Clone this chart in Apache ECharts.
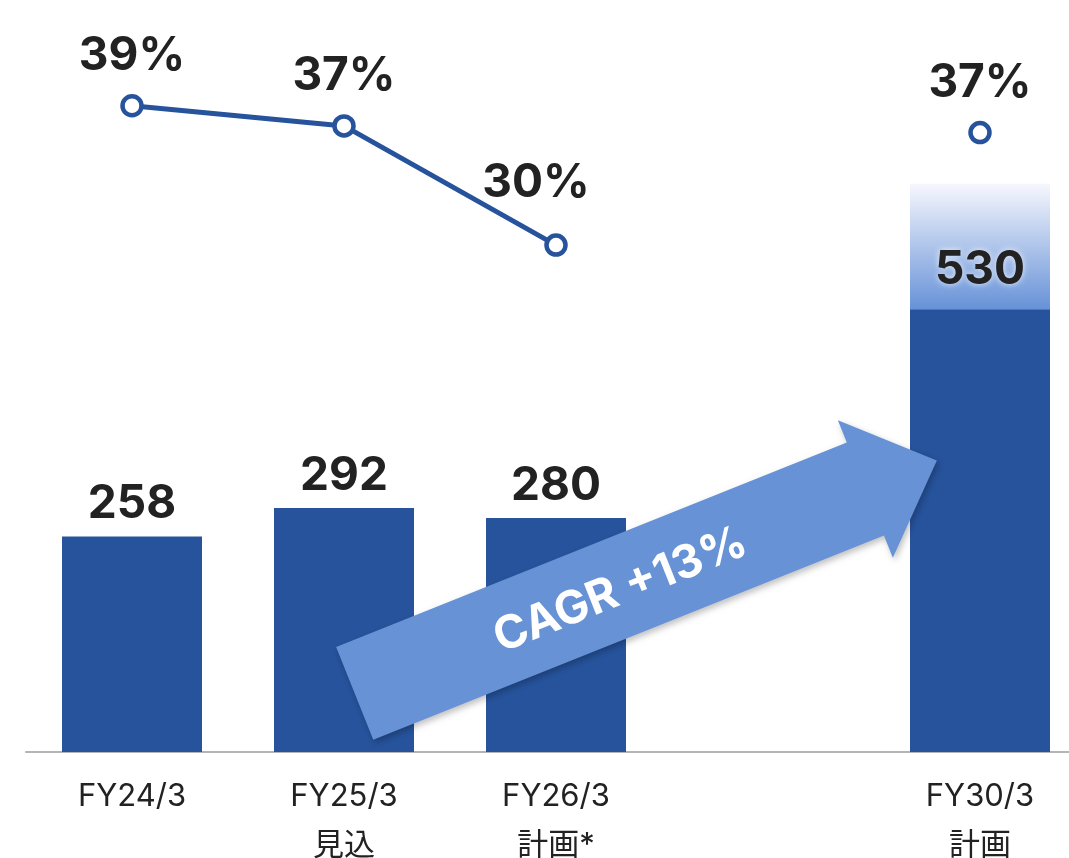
<!DOCTYPE html>
<html>
<head>
<meta charset="utf-8">
<script src="https://cdn.jsdelivr.net/npm/echarts@6/dist/echarts.min.js"></script>
<style>
  html, body { margin: 0; padding: 0; background: #fff; }
  #chart { width: 1069px; height: 858px; }
</style>
</head>
<body>
<div id="chart"></div>
<script>
// categories (4th slot is an empty gap before FY30)
const categories = ["FY24/3", "FY25/3\n見込", "FY26/3\n計画*", "", "FY30/3\n計画"];
const sales = [258, 292, 280, null, 530];
// lighter gradient block on top of FY30 bar
const upside = [null, null, null, null, 150];
// ratio line (labels show rounded values)
const ratio = [38.5, 37.3, 30.2, null, 36.9];
const cagrText = "CAGR +13%";

const DARK = "#26539c";
const BOLDFONT = "Inter, 'Liberation Sans', Arial, sans-serif";
const AXISFONT = "Inter, 'Noto Sans CJK JP', sans-serif";

const chart = echarts.init(document.getElementById("chart"));

chart.setOption({
  animation: false,
  grid: { left: 26, right: -17, top: 0, bottom: 106, containLabel: false, outerBoundsMode: "none" },
  xAxis: {
    type: "category",
    data: categories,
    axisTick: { show: false },
    axisLine: { lineStyle: { color: "#b4b4b4", width: 2 } },
    axisLabel: {
      interval: 0,
      margin: 20,
      color: "#222",
      fontSize: 31,
      lineHeight: 49,
      fontFamily: AXISFONT
    }
  },
  yAxis: [
    { type: "value", min: 0, max: 900, show: false, splitLine: { show: false } },
    { type: "value", min: 0, max: 44.8, show: false, splitLine: { show: false } }
  ],
  graphic: [
    {
      type: "group",
      x: 354.7,
      y: 693.3,
      rotation: 21.8 * Math.PI / 180,
      z: 100,
      children: [
        {
          type: "polygon",
          z: 100,
          shape: {
            points: [[0, -50], [550, -50], [550, -74], [627, 0], [550, 74], [550, 50], [0, 50]]
          },
          style: {
            fill: "#6792d6",
            shadowBlur: 6,
            shadowOffsetX: 2,
            shadowOffsetY: 3,
            shadowColor: "rgba(0,0,0,0.25)"
          }
        },
        {
          type: "text",
          z: 101,
          style: {
            text: cagrText,
            x: 285,
            y: 3,
            align: "center",
            verticalAlign: "middle",
            fill: "#fff",
            fontSize: 46,
            fontWeight: "bold",
            fontFamily: BOLDFONT
          }
        }
      ]
    }
  ],
  series: [
    {
      type: "bar",
      stack: "s",
      barWidth: 140,
      data: sales.map((v, i) => (i === 4 ? { value: v, label: { distance: 16 } } : v)),
      itemStyle: { color: DARK },
      label: {
        show: true,
        position: "top",
        distance: 9,
        color: "#222",
        fontSize: 46,
        fontWeight: "bold",
        fontFamily: BOLDFONT,
        textShadowColor: "rgba(255,255,255,0.8)",
        textShadowBlur: 6
      }
    },
    {
      type: "bar",
      stack: "s",
      barWidth: 140,
      z: 1,
      data: upside,
      itemStyle: {
        color: new echarts.graphic.LinearGradient(0, 0, 0, 1, [
          { offset: 0, color: "#f6f7fd" },
          { offset: 1, color: "#6792d8" }
        ])
      }
    },
    {
      type: "line",
      yAxisIndex: 1,
      // the FY26 label sits a bit left of and above its point
      data: ratio.map((v, i) => (i === 2 ? { value: v, label: { offset: [-20, -12] } } : v)),
      symbol: "circle",
      symbolSize: 19,
      showSymbol: true,
      lineStyle: { color: DARK, width: 5 },
      itemStyle: { color: "#fff", borderColor: DARK, borderWidth: 4.5 },
      label: {
        show: true,
        position: "top",
        distance: 15,
        color: "#222",
        fontSize: 46,
        fontWeight: "bold",
        fontFamily: BOLDFONT,
        formatter: p => Math.round(p.value) + "%"
      }
    }
  ]
});
</script>
</body>
</html>
